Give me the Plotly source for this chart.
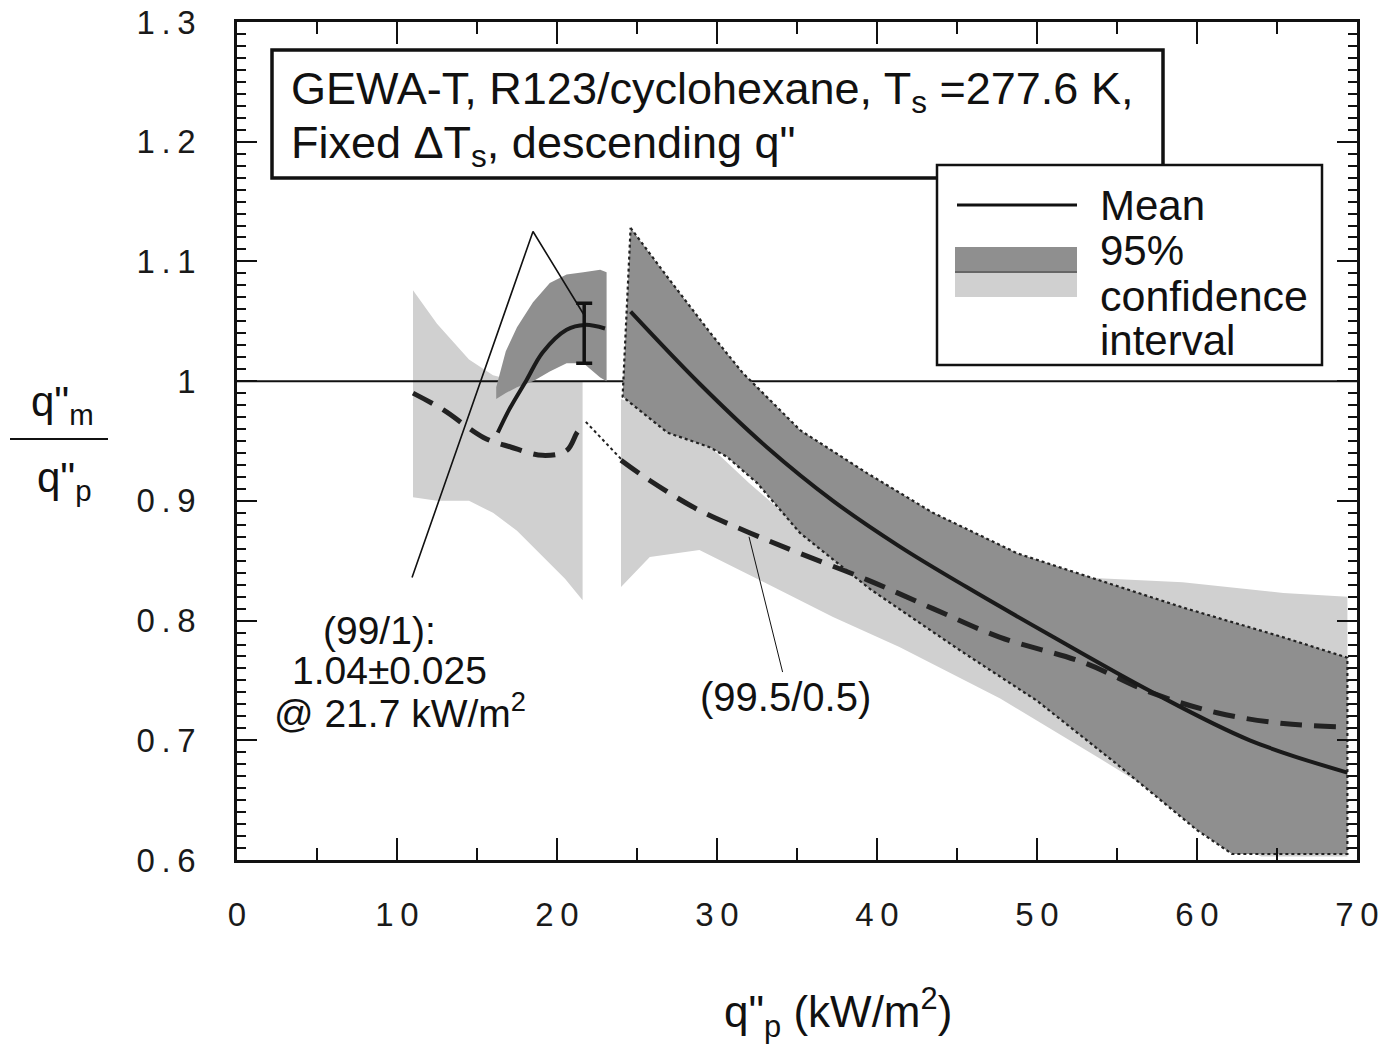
import plotly.graph_objects as go

# ---------------- data ----------------
# 99.5/0.5 confidence band, left segment
left_light_x = [11.0, 12.5, 14.5, 16.0, 17.5, 19.0, 20.5, 21.6]
left_light_upper = [1.076, 1.048, 1.018, 1.005, 1.0, 1.0, 1.0, 1.0]
left_light_lower = [0.903, 0.900, 0.900, 0.890, 0.875, 0.855, 0.835, 0.817]

# 99/1 confidence band, left segment
left_dark_x = [16.2, 16.8, 17.5, 18.5, 19.55, 20.6, 21.65, 22.7, 23.1]
left_dark_upper = [0.995, 1.025, 1.045, 1.066, 1.082, 1.089, 1.091, 1.093, 1.091]
left_dark_lower = [0.985, 0.990, 0.995, 1.000, 1.008, 1.015, 1.015, 1.003, 1.000]

# 99/1 mean, left segment
left_mean_x = [16.3, 17.0, 18.1, 19.1, 20.6, 21.75, 23.0]
left_mean_y = [0.957, 0.976, 1.001, 1.024, 1.043, 1.047, 1.044]

# 99.5/0.5 mean, left segment
left_dash_x = [11.0, 12.9, 15.4, 17.1, 19.1, 20.6, 21.25, 21.6]
left_dash_y = [0.990, 0.976, 0.953, 0.945, 0.938, 0.942, 0.957, 0.963]

# thin dotted link across the gap
gap_x = [21.8, 24.0]
gap_y = [0.966, 0.935]

# 99.5/0.5 mean, right segment
right_dash_x = [24.0, 25.8, 28.9, 32.1, 35.2, 39.4, 43.5, 47.7, 52.9, 57.1, 61.25, 65.4, 69.4]
right_dash_y = [0.934, 0.917, 0.892, 0.873, 0.856, 0.834, 0.810, 0.786, 0.765, 0.740, 0.723, 0.714, 0.711]

# 99/1 mean, right segment
right_mean_x = [24.6, 28.9, 33.1, 37.25, 41.4, 45.6, 50.8, 57.1, 63.3, 69.4]
right_mean_y = [1.058, 0.998, 0.945, 0.900, 0.862, 0.828, 0.788, 0.741, 0.700, 0.673]

# 99/1 band, right segment
right_dark_upper_x = [24.6, 26.9, 29.6, 31.6, 35.2, 39.4, 43.5, 48.8, 52.9, 59.1, 65.4, 69.4]
right_dark_upper_y = [1.128, 1.087, 1.040, 1.007, 0.959, 0.923, 0.890, 0.856, 0.838, 0.811, 0.786, 0.769]
right_dark_lower_x = [24.1, 26.9, 29.5, 30.6, 32.5, 35.2, 39.6, 45.2, 50.0, 55.0, 60.0, 62.2, 69.4]
right_dark_lower_y = [0.987, 0.957, 0.945, 0.937, 0.915, 0.873, 0.826, 0.775, 0.733, 0.680, 0.625, 0.605, 0.605]

# 99.5/0.5 band, right segment
right_light_upper_x = [24.0, 26.0, 28.0, 30.0, 32.0, 35.0, 40.0, 45.0, 50.0, 52.9, 59.1, 65.4, 69.4]
right_light_upper_y = [0.985, 0.975, 0.960, 0.940, 0.915, 0.880, 0.862, 0.852, 0.845, 0.836, 0.832, 0.823, 0.820]
right_light_lower_x = [24.0, 25.8, 28.9, 33.1, 37.25, 41.4, 47.7, 53.9, 60.2, 64.0, 69.4]
right_light_lower_y = [0.828, 0.853, 0.859, 0.831, 0.803, 0.778, 0.735, 0.685, 0.633, 0.603, 0.603]

# error bar of the 99/1 point
err_x = [21.7]
err_y = [1.04]
err_half = [0.025]

ref_y = 1.0

# leader lines (data coords)
lead1_x = [10.94, 18.5, 21.75]
lead1_y = [0.836, 1.125, 1.054]
lead2_x = [32.0, 34.1]
lead2_y = [0.870, 0.757]

TS = "\u2009"
x_tick_vals = [0, 10, 20, 30, 40, 50, 60, 70]
x_tick_text = ["0", "1" + TS + "0", "2" + TS + "0", "3" + TS + "0", "4" + TS + "0",
               "5" + TS + "0", "6" + TS + "0", "7" + TS + "0"]
y_tick_vals = [0.6, 0.7, 0.8, 0.9, 1.0, 1.1, 1.2, 1.3]
y_tick_text = [TS.join(s) for s in ["0.6", "0.7", "0.8", "0.9", "1", "1.1", "1.2", "1.3"]]

DARK = "#8f8f8f"
LIGHT = "#d0d0d0"
FONT = "Liberation Sans, Arial, Helvetica, sans-serif"

# ---------------- layout geometry ----------------
W, H = 1390, 1045
L, R, T, B = 237, 1357, 22, 860


def px(x):
    return (x - L) / (R - L)


def py(y):
    return (B - y) / (B - T)


def band(xu, yu, xl, yl):
    return list(xu) + list(xl)[::-1] + [xu[0]], list(yu) + list(yl)[::-1] + [yu[0]]


fig = go.Figure()

# light bands
bx, by = band(left_light_x, left_light_upper, left_light_x, left_light_lower)
fig.add_trace(go.Scatter(x=bx, y=by, fill="toself", fillcolor=LIGHT, mode="lines",
                         line=dict(width=0, color=LIGHT), hoverinfo="skip"))
bx, by = band(right_light_upper_x, right_light_upper_y, right_light_lower_x, right_light_lower_y)
fig.add_trace(go.Scatter(x=bx, y=by, fill="toself", fillcolor=LIGHT, mode="lines",
                         line=dict(width=0, color=LIGHT), hoverinfo="skip"))

# reference line
fig.add_trace(go.Scatter(x=[0, 70], y=[ref_y, ref_y], mode="lines",
                         line=dict(color="#111", width=2), hoverinfo="skip"))

# dark bands
bx, by = band(left_dark_x, left_dark_upper, left_dark_x, left_dark_lower)
fig.add_trace(go.Scatter(x=bx, y=by, fill="toself", fillcolor=DARK, mode="lines",
                         line=dict(width=0, color=DARK), hoverinfo="skip"))
bx, by = band(right_dark_upper_x, right_dark_upper_y, right_dark_lower_x, right_dark_lower_y)
fig.add_trace(go.Scatter(x=bx, y=by, fill="toself", fillcolor=DARK, mode="lines",
                         line=dict(width=2.2, color="#222", dash="dot"), hoverinfo="skip"))

# 99.5/0.5 mean (dashed)
for xs, ys in [(left_dash_x, left_dash_y), (right_dash_x, right_dash_y)]:
    fig.add_trace(go.Scatter(x=xs, y=ys, mode="lines", line_shape="spline",
                             line=dict(color="#222", width=5, dash="22px,12px"), hoverinfo="skip"))
fig.add_trace(go.Scatter(x=gap_x, y=gap_y, mode="lines",
                         line=dict(color="#222", width=2, dash="dot"), hoverinfo="skip"))

# 99/1 mean (solid)
for xs, ys in [(left_mean_x, left_mean_y), (right_mean_x, right_mean_y)]:
    fig.add_trace(go.Scatter(x=xs, y=ys, mode="lines", line_shape="spline",
                             line=dict(color="#1a1a1a", width=4), hoverinfo="skip"))

# error bar
fig.add_trace(go.Scatter(x=err_x, y=err_y, mode="markers",
                         marker=dict(size=1, color="rgba(0,0,0,0)"),
                         error_y=dict(type="data", array=err_half, thickness=3.5, width=8, color="#111"),
                         hoverinfo="skip"))

# leader lines
fig.add_trace(go.Scatter(x=lead1_x, y=lead1_y, mode="lines", line=dict(color="#111", width=1.6), hoverinfo="skip"))
fig.add_trace(go.Scatter(x=lead2_x, y=lead2_y, mode="lines", line=dict(color="#111", width=1), hoverinfo="skip"))

shapes = []
# title box
shapes.append(dict(type="rect", xref="paper", yref="paper", x0=px(272), x1=px(1163), y0=py(178), y1=py(50),
                   line=dict(color="#111", width=3.5), fillcolor="white", layer="above"))
# legend box
shapes.append(dict(type="rect", xref="paper", yref="paper", x0=px(937), x1=px(1322), y0=py(365), y1=py(165),
                   line=dict(color="#111", width=2.5), fillcolor="white", layer="above"))
shapes.append(dict(type="line", xref="paper", yref="paper", x0=px(957), x1=px(1077), y0=py(205), y1=py(205),
                   line=dict(color="#111", width=3), layer="above"))
shapes.append(dict(type="rect", xref="paper", yref="paper", x0=px(955), x1=px(1077), y0=py(271), y1=py(247),
                   line=dict(width=0), fillcolor=DARK, layer="above"))
shapes.append(dict(type="rect", xref="paper", yref="paper", x0=px(955), x1=px(1077), y0=py(297), y1=py(273),
                   line=dict(width=0), fillcolor=LIGHT, layer="above"))
shapes.append(dict(type="line", xref="paper", yref="paper", x0=px(955), x1=px(1077), y0=py(272), y1=py(272),
                   line=dict(color="#333", width=1.5), layer="above"))
# fraction bar of y title
shapes.append(dict(type="line", xref="paper", yref="paper", x0=px(10), x1=px(108), y0=py(439), y1=py(439),
                   line=dict(color="#111", width=2), layer="above"))

ann = []


def text(t, x, y, size, xanchor="center"):
    ann.append(dict(text=t, x=px(x), y=py(y), xref="paper", yref="paper", showarrow=False,
                    xanchor=xanchor, yanchor="middle", font=dict(family=FONT, size=size, color="#111")))


text('GEWA-T, R123/cyclohexane, T<sub>s</sub> =277.6 K,', 289, 92, 45, "left")
text('Fixed ΔT<sub>s</sub>, descending q"', 289, 146, 45, "left")
text("Mean", 1098, 205, 42, "left")
text("95%", 1098, 250, 42, "left")
text("confidence", 1098, 296, 43, "left")
text("interval", 1098, 341, 42, "left")
text("(99/1):", 379, 630, 39)
text("1.04±0.025", 389, 670, 39)
text("@ 21.7 kW/m<sup>2</sup>", 400, 710, 39)
text("(99.5/0.5)", 785, 697, 40)
text('q"<sub>m</sub>', 62, 404, 42)
text('q"<sub>p</sub>', 64, 480, 42)
text('q"<sub>p</sub> (kW/m<sup>2</sup>)', 838, 1012, 44)

fig.update_layout(
    width=W, height=H, autosize=False,
    margin=dict(l=L, r=W - R, t=T, b=H - B, pad=0, autoexpand=False),
    paper_bgcolor="white", plot_bgcolor="white",
    showlegend=False, shapes=shapes, annotations=ann,
    font=dict(family=FONT, color="#111"),
)
fig.update_xaxes(range=[0, 70], showgrid=False, zeroline=False, showline=True, linecolor="#111", linewidth=2.5,
                 mirror="allticks", ticks="inside", ticklen=22, tickwidth=2, tickcolor="#111",
                 tickvals=x_tick_vals, ticktext=x_tick_text, tickfont=dict(size=33, family=FONT, color="#1a1a1a"),
                 ticklabelstandoff=24, automargin=False,
                 minor=dict(ticks="inside", dtick=5, ticklen=12, tickwidth=2, tickcolor="#111"))
fig.update_yaxes(range=[0.6, 1.3], showgrid=False, zeroline=False, showline=True, linecolor="#111", linewidth=2.5,
                 mirror="allticks", ticks="inside", ticklen=20, tickwidth=2, tickcolor="#111",
                 tickvals=y_tick_vals, ticktext=y_tick_text, tickfont=dict(size=33, family=FONT, color="#1a1a1a"),
                 ticklabelstandoff=32, automargin=False,
                 minor=dict(ticks="inside", dtick=0.01, ticklen=9, tickwidth=2, tickcolor="#111"))

fig.write_html("out.html")
